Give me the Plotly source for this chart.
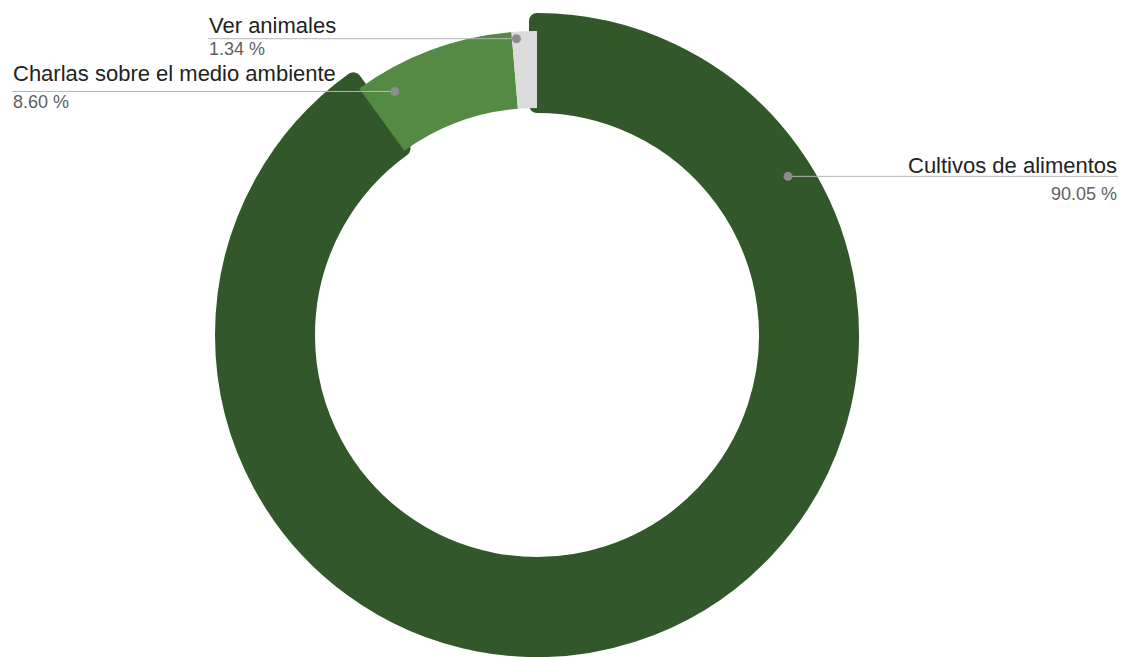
import math
import plotly.graph_objects as go

# Data
categories = ["Cultivos de alimentos", "Charlas sobre el medio ambiente", "Ver animales"]
values = [90.05, 8.60, 1.34]
pct_labels = ["90.05 %", "8.60 %", "1.34 %"]

# Style
colors = ["#32572a", "#548a44", "#dcdbdc"]
W, H = 1124, 657
CX, CY = 537, 335          # donut centre in pixels
R_MAIN, R_MAIN_IN = 314, 230   # emphasised slice ring
R_REST, R_REST_IN = 304, 227   # remaining slices ring
MAIN_STROKE = 16
LABEL_FONT = "Liberation Sans, Arial, sans-serif"

# callout layout (pixel space)
DOT_FRAC = 0.178
DOT_R = [297, 282, 297]
DOT_SIZE = 4.5
LABEL_X = [1118, 12, 208]
LABEL_ANCHOR = ["right", "left", "left"]
LABEL_DY = [-11, -18, -13]     # label centre relative to leader line
PCT_DY = [18, 11, 10]          # percent centre relative to leader line


def domain_for(r):
    x0, x1 = (CX - r) / W, (CX + r) / W
    y0, y1 = 1 - (CY + r) / H, 1 - (CY - r) / H
    return dict(x=[x0, x1], y=[y0, y1])


fig = go.Figure()

# emphasised slice (drawn underneath, slightly larger with rounded outline)
fig.add_trace(go.Pie(
    labels=categories, values=values, sort=False, direction="clockwise", rotation=0,
    hole=R_MAIN_IN / R_MAIN, domain=domain_for(R_MAIN),
    marker=dict(colors=[colors[0], "rgba(0,0,0,0)", "rgba(0,0,0,0)"],
                line=dict(color=[colors[0], "rgba(0,0,0,0)", "rgba(0,0,0,0)"],
                          width=[MAIN_STROKE, 0, 0])),
    textinfo="none", hoverinfo="skip", showlegend=False,
))

# remaining slices on top
fig.add_trace(go.Pie(
    labels=categories, values=values, sort=False, direction="clockwise", rotation=0,
    hole=R_REST_IN / R_REST, domain=domain_for(R_REST),
    marker=dict(colors=["rgba(0,0,0,0)", colors[1], colors[2]],
                line=dict(width=0)),
    textinfo="none", hoverinfo="skip", showlegend=False,
))

# callouts: dot on slice, horizontal leader line, label + percent
total = sum(values)
start = 0.0
annotations = []
shapes = []
for i, v in enumerate(values):
    span = v / total * 360.0
    ang = math.radians(start + DOT_FRAC * span)
    start += span
    dx = CX + DOT_R[i] * math.sin(ang)
    dy = CY - DOT_R[i] * math.cos(ang)
    shapes.append(dict(
        type="line", xref="x", yref="y", x0=dx, y0=dy, x1=LABEL_X[i], y1=dy,
        line=dict(color="#b5b5b5", width=1), layer="above",
    ))
    shapes.append(dict(
        type="circle", xref="x", yref="y",
        x0=dx - DOT_SIZE, x1=dx + DOT_SIZE, y0=dy - DOT_SIZE, y1=dy + DOT_SIZE,
        fillcolor="#8c8c8c", line=dict(width=0), layer="above",
    ))
    annotations.append(dict(
        x=LABEL_X[i], y=dy + LABEL_DY[i], xref="x", yref="y", text=categories[i],
        showarrow=False, xanchor=LABEL_ANCHOR[i], yanchor="middle",
        font=dict(family=LABEL_FONT, size=22, color="#222222"), borderpad=0,
    ))
    annotations.append(dict(
        x=LABEL_X[i], y=dy + PCT_DY[i], xref="x", yref="y", text=pct_labels[i],
        showarrow=False, xanchor=LABEL_ANCHOR[i], yanchor="middle",
        font=dict(family=LABEL_FONT, size=18, color="#5f5f5f"), borderpad=0,
    ))

fig.update_layout(
    width=W, height=H, margin=dict(l=0, r=0, t=0, b=0),
    paper_bgcolor="white", plot_bgcolor="rgba(0,0,0,0)",
    xaxis=dict(range=[0, W], visible=False, fixedrange=True),
    yaxis=dict(range=[H, 0], visible=False, fixedrange=True),
    annotations=annotations, shapes=shapes,
)

round_joins = (
    "document.querySelectorAll('.slice path.surface')"
    ".forEach(function(p){p.style.strokeLinejoin='round';});"
)
fig.write_html("out.html", post_script=round_joins)
